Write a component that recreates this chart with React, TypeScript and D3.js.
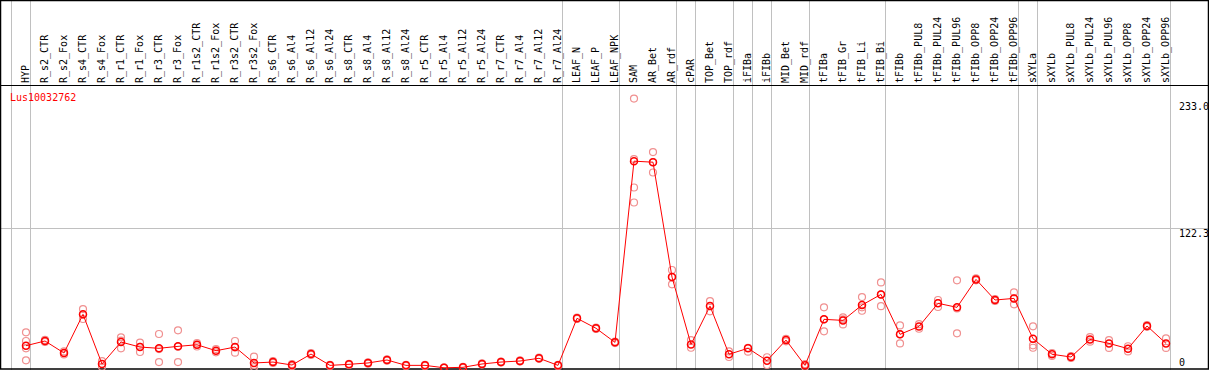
import React from "react";
import * as d3 from "d3";

const categories: string[] = [
  "HYP", "R_s2_CTR", "R_s2_Fox", "R_s4_CTR", "R_s4_Fox", "R_r1_CTR", "R_r1_Fox", "R_r3_CTR", "R_r3_Fox",
  "R_r1s2_CTR", "R_r1s2_Fox", "R_r3s2_CTR", "R_r3s2_Fox", "R_s6_CTR", "R_s6_Al4", "R_s6_Al12", "R_s6_Al24",
  "R_s8_CTR", "R_s8_Al4", "R_s8_Al12", "R_s8_Al24", "R_r5_CTR", "R_r5_Al4", "R_r5_Al12", "R_r5_Al24",
  "R_r7_CTR", "R_r7_Al4", "R_r7_Al12", "R_r7_Al24", "LEAF_N", "LEAF_P", "LEAF_NPK", "SAM", "AR_Bet", "AR_rdf",
  "cPAR", "TOP_Bet", "TOP_rdf", "iFIBa", "iFIBb", "MID_Bet", "MID_rdf", "tFIBa", "tFIB_Gr", "tFIB_Li", "tFIB_Bi",
  "tFIBb", "tFIBb_PUL8", "tFIBb_PUL24", "tFIBb_PUL96", "tFIBb_OPP8", "tFIBb_OPP24", "tFIBb_OPP96",
  "sXYLa", "sXYLb", "sXYLb_PUL8", "sXYLb_PUL24", "sXYLb_PUL96", "sXYLb_OPP8", "sXYLb_OPP24", "sXYLb_OPP96",
];

// indices where a new group starts (separator line drawn before it), plus end
const groupStarts: number[] = [0, 1, 29, 32, 35, 36, 38, 39, 40, 42, 46, 53, 54, 61];

const means: number[] = [
  19.5, 23.6, 13.1, 46.9, 3.5, 22.7, 18.3, 17.2, 18.9, 20.3, 15.1, 18.3, 4.4, 5.2, 2.6, 12.2, 2.3,
  3.2, 4.4, 7.0, 2.3, 2.3, 0.2, 0.6, 3.5, 5.2, 6.1, 8.5, 2.3,
  43.4, 34.7, 22.4, 180.7, 179.8, 79.4, 20.6, 54.1, 12.0, 17.2, 6.4, 24.4, 2.3,
  42.5, 41.6, 55.0, 64.3, 29.4, 36.3, 56.5, 53.0, 77.4, 59.4, 60.8,
  25.6, 12.0, 9.6, 25.0, 21.5, 16.9, 36.7, 21.5,
];

const replicates: number[][] = [
  [31.2, 23.6, 17.2, 6.7], [24.5, 22.7], [14.5, 11.8], [51.5, 46.5, 42.8], [6.0, 1.0],
  [26.8, 24.0, 17.2], [22.1, 18.5, 14.0], [29.7, 16.5, 5.2], [32.9, 18.6, 5.2], [21.8, 20.3, 18.8],
  [16.5, 13.7], [23.6, 17.9, 13.4], [9.9, 2.6, 0.7], [6.0, 4.4], [3.5, 1.7], [13.0, 11.4], [2.8, 1.8],
  [3.7, 2.7], [5.0, 3.8], [7.6, 6.4], [2.8, 1.8], [2.8, 1.8], [0.6, 0.0], [1.1, 0.1], [4.0, 3.0],
  [5.7, 4.7], [6.6, 5.6], [9.0, 8.0], [2.8, 1.8],
  [44.0, 42.8], [35.3, 34.1], [23.0, 21.8],
  [235.4, 182.5, 157.7, 144.6], [188.6, 179.8, 170.8], [85.6, 79.4, 73.1],
  [24.4, 17.7], [58.5, 54.0, 49.5], [14.5, 9.6], [17.5, 14.3], [9.4, 2.6], [25.5, 23.3], [3.5, 1.0],
  [53.0, 42.5, 32.0], [44.3, 42.5, 38.1], [62.0, 53.0, 50.0], [74.8, 64.3, 54.0],
  [37.2, 29.4, 21.5], [38.3, 34.3], [59.4, 56.8, 53.3], [76.6, 52.0, 30.3], [78.3, 76.6],
  [60.2, 58.6], [66.1, 60.8, 55.6],
  [36.4, 19.8, 17.7], [13.0, 10.5], [10.5, 8.8], [27.0, 23.0], [24.4, 17.5], [19.0, 14.5],
  [37.5, 36.0], [25.9, 17.5],
];

const yTicks: number[] = [233.0, 122.3, 0];
const title = "Lus10032762";

const W = 1209;
const H = 370;
const FONT = "'DejaVu Sans Mono', monospace";

export default function App() {
  const x = d3.scaleLinear().domain([0, categories.length - 1]).range([26, 26 + 19 * (categories.length - 1)]);
  const y = d3.scaleLinear().domain([0, 233]).range([368, 101.3]);
  const line = d3.line<number>().x((_, i) => x(i)).y((d) => y(d));

  return (
    <svg width={W} height={H} style={{ position: "absolute", left: 0, top: 0, background: "#fff" }}>
      {/* group separators */}
      {groupStarts.map((g) => {
        const gx = Math.round(x(g) - 15) + 0.5;
        return <line key={"g" + g} x1={gx} x2={gx} y1={0} y2={H} stroke="#c0c0c0" strokeWidth={1} />;
      })}
      {/* horizontal gridline */}
      <line x1={0} x2={W} y1={Math.round(y(122.3)) + 0.5} y2={Math.round(y(122.3)) + 0.5} stroke="#c0c0c0" strokeWidth={1} />
      {/* frame */}
      <rect x={0.5} y={0.5} width={W - 1} height={H - 1.5} fill="none" stroke="#000" strokeWidth={1.5} />
      <line x1={0} x2={W} y1={85.5} y2={85.5} stroke="#000" strokeWidth={1} />
      {/* category labels */}
      {categories.map((c, i) => (
        <text
          key={c}
          transform={`translate(${x(i) - 1},83) rotate(-90)`}
          fontFamily={FONT}
          fontSize={10}
          dominantBaseline="central"
          fill="#000"
        >
          {c}
        </text>
      ))}
      {/* title */}
      <text x={10} y={101} fontFamily={FONT} fontSize={10} fill="#ff0000">{title}</text>
      {/* y tick labels */}
      {yTicks.map((t) => (
        <text
          key={t}
          x={1179}
          y={t === 0 ? 366 : y(t) + 9}
          fontFamily={FONT}
          fontSize={10}
          fill="#000"
        >
          {t === 0 ? "0" : t.toFixed(1)}
        </text>
      ))}
      {/* replicate points */}
      {replicates.map((reps, i) =>
        reps.map((v, j) => (
          <circle key={`r${i}-${j}`} cx={x(i)} cy={y(v)} r={3.5} fill="none" stroke="#f09090" strokeWidth={1.2} />
        ))
      )}
      {/* mean line */}
      <path d={line(means) || ""} fill="none" stroke="#ff0000" strokeWidth={1} />
      {means.map((v, i) => (
        <circle key={"m" + i} cx={x(i)} cy={y(v)} r={3.5} fill="none" stroke="#ff0000" strokeWidth={1.5} />
      ))}
    </svg>
  );
}
